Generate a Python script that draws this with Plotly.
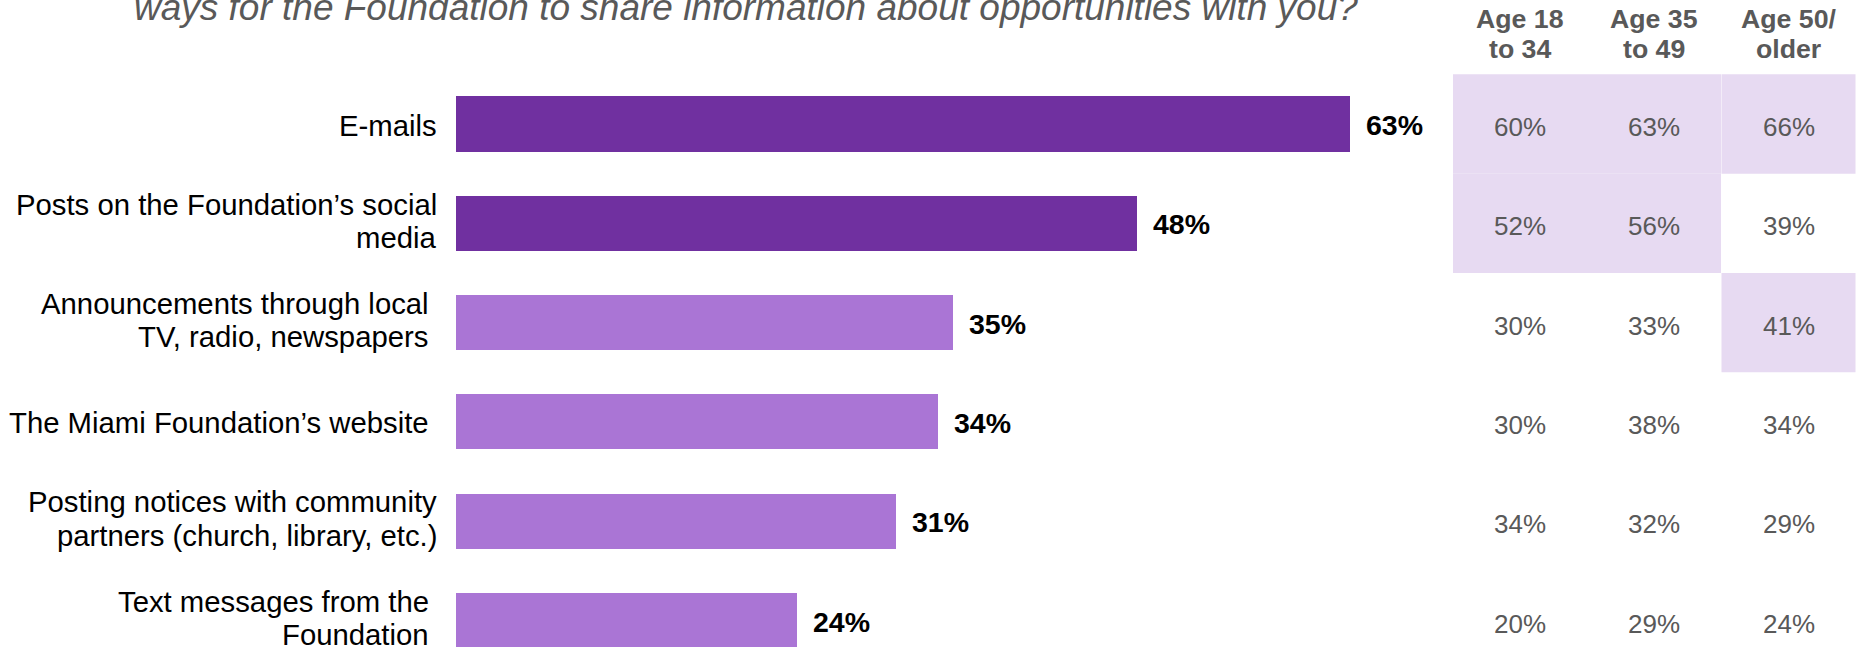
import plotly.graph_objects as go

# Survey results: preferred ways to hear about opportunities
categories = [
    "E-mails",
    "Posts on the Foundation’s social<br>media",
    "Announcements through local\u00a0<br>TV, radio, newspapers\u00a0",
    "The Miami Foundation’s website\u00a0",
    "Posting notices with community<br>partners (church, library, etc.)",
    "Text messages from the\u00a0<br>Foundation\u00a0",
]
overall = [63, 48, 35, 34, 31, 24]

age_groups = ["Age 18<br>to 34", "Age 35<br>to 49", "Age 50/<br>older"]
age_18_34 = [60, 52, 30, 30, 34, 20]
age_35_49 = [63, 56, 33, 38, 32, 29]
age_50_up = [66, 39, 41, 34, 29, 24]

# cells flagged as notably high within each age column
flag_18_34 = [True, True, False, False, False, False]
flag_35_49 = [True, True, False, False, False, False]
flag_50_up = [True, False, True, False, False, False]

question_tail = "ways for the Foundation to share information about opportunities with you?"

# ---- layout constants ----
W, H = 1860, 647
FONT = "Arial, 'Liberation Sans', sans-serif"
DARK = "#7030A0"
LIGHT = "#AA75D5"
SHADE = "#E7DAF2"
GREY = "#595959"
N_DARK = 2

PX_PER_UNIT = 14.19
X0_PX = 456
ROW_PX = 99.3
ROW0_PX = 124

x_range = [-X0_PX / PX_PER_UNIT, (W - X0_PX) / PX_PER_UNIT]
y_range = [(H - ROW0_PX) / ROW_PX, -ROW0_PX / ROW_PX]

def py(px):
    """pixel row from top -> paper y"""
    return 1 - px / H

def pxx(px):
    return px / W

idx = list(range(len(categories)))
bar_colors = [DARK if i < N_DARK else LIGHT for i in idx]

fig = go.Figure()
fig.add_trace(go.Bar(
    x=overall, y=idx, orientation="h",
    marker=dict(color=bar_colors, line=dict(width=0)),
    width=0.555, hoverinfo="skip", showlegend=False,
))

annotations = []
shapes = []

# category labels, one annotation per line for tighter line spacing
LINE_GAP = 33.5
for i, lab in enumerate(categories):
    lines = lab.split("<br>")
    n = len(lines)
    nudge = -1 if n == 1 else 2.5
    for j, ln in enumerate(lines):
        annotations.append(dict(
            x=pxx(438.5), xref="paper", xanchor="right",
            y=i, yref="y", yanchor="middle",
            yshift=((n - 1) / 2 - j) * LINE_GAP + nudge,
            text=ln, showarrow=False,
            font=dict(family=FONT, size=29.3, color="black"),
        ))

# value labels at bar ends
for i, v in enumerate(overall):
    annotations.append(dict(
        x=v, xref="x", xanchor="left", xshift=14,
        y=i, yref="y", yanchor="middle", yshift=-1,
        text=f"<b>{v}%</b>", showarrow=False,
        font=dict(family=FONT, size=28.5, color="black"),
    ))

# age breakdown table
col_centers = [1520, 1654, 1788.5]
col_w = 134
columns = [age_18_34, age_35_49, age_50_up]
flags = [flag_18_34, flag_35_49, flag_50_up]
for c, (vals, fl) in enumerate(zip(columns, flags)):
    cx = col_centers[c]
    for i, (v, f) in enumerate(zip(vals, fl)):
        if f:
            shapes.append(dict(
                type="rect", xref="paper", yref="y",
                x0=pxx(cx - col_w / 2), x1=pxx(cx + col_w / 2),
                y0=i - 0.5, y1=i + 0.5,
                fillcolor=SHADE, line=dict(width=0), layer="below",
            ))
        annotations.append(dict(
            x=pxx(cx), xref="paper", xanchor="center",
            y=i, yref="y", yanchor="middle", yshift=-3,
            text=f"{v}%", showarrow=False,
            font=dict(family=FONT, size=26, color=GREY),
        ))
    head = age_groups[c].split("<br>")
    for j, ln in enumerate(head):
        annotations.append(dict(
            x=pxx(cx), xref="paper", xanchor="center",
            y=py(19 + 30 * j), yref="paper", yanchor="middle",
            text=f"<b>{ln}</b>", showarrow=False,
            font=dict(family=FONT, size=26.7, color=GREY),
        ))

# question text (continues from above the visible area)
annotations.append(dict(
    x=pxx(132), xref="paper", xanchor="left",
    y=py(8), yref="paper", yanchor="middle",
    text=f"<i>{question_tail}</i>", showarrow=False,
    font=dict(family=FONT, size=37, color=GREY),
))

fig.update_layout(
    width=W, height=H,
    margin=dict(l=0, r=0, t=0, b=0),
    paper_bgcolor="white", plot_bgcolor="white",
    xaxis=dict(range=x_range, visible=False, fixedrange=True),
    yaxis=dict(range=y_range, visible=False, fixedrange=True),
    annotations=annotations, shapes=shapes,
    bargap=0,
)

fig.write_html("out.html")
